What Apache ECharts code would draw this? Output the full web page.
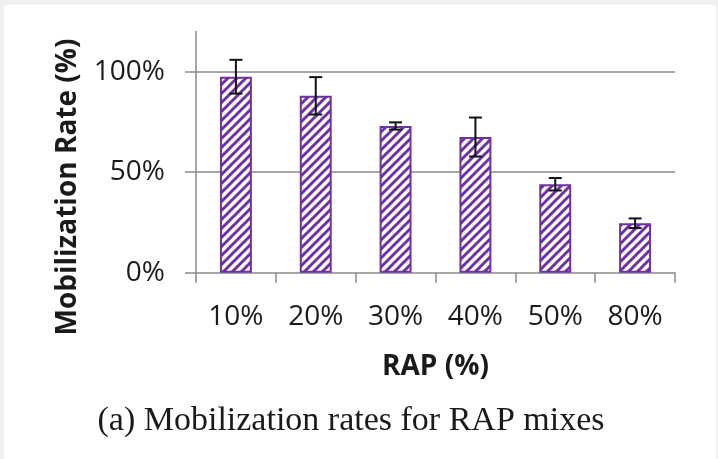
<!DOCTYPE html>
<html>
<head>
<meta charset="utf-8">
<script src="https://cdn.jsdelivr.net/npm/echarts@6/dist/echarts.min.js"></script>
<style>
  html, body { margin: 0; padding: 0; background: #efefef; }
  #frame { position: absolute; left: 4px; top: 5px; width: 712px; height: 454px; background: #ffffff; }
  #chart { position: absolute; left: -4px; top: -5px; width: 718px; height: 459px; }
</style>
</head>
<body>
<div id="frame"><div id="chart"></div></div>
<script>
// RAP content of each mix
const categories = ['10%', '20%', '30%', '40%', '50%', '80%'];
// mean mobilization rate (%)
const rates = [97.5, 88, 73, 67.5, 44, 24.6];
// standard deviation shown as error bars (%)
const errors = [8.4, 9.3, 1.8, 9.7, 3.1, 2.4];
// value axis ticks (%)
const yTicks = [0, 50, 100];

const PURPLE = '#7030a0';
const GRID = '#8a8a8a';
const INK = '#1a1a1a';
const SANS = '"Open Sans", "Liberation Sans", sans-serif';

// diagonal hatch used as bar fill
function hatch() {
  const s = 9;
  const c = document.createElement('canvas');
  c.width = s; c.height = s;
  const g = c.getContext('2d');
  g.fillStyle = '#ffffff';
  g.fillRect(0, 0, s, s);
  g.strokeStyle = PURPLE;
  g.lineWidth = 3;
  g.lineCap = 'square';
  for (const o of [-s, 0, s]) {
    g.beginPath();
    g.moveTo(o, s);
    g.lineTo(o + s, 0);
    g.stroke();
  }
  return c;
}

const chart = echarts.init(document.getElementById('chart'), null, { renderer: 'canvas' });

chart.setOption({
  animation: false,
  backgroundColor: 'transparent',
  grid: { left: 196, right: 43, top: 31.5, bottom: 186.3 },
  xAxis: {
    type: 'category',
    data: categories,
    boundaryGap: true,
    axisLine: { lineStyle: { color: GRID, width: 1.5 } },
    axisTick: { show: true, length: 10, lineStyle: { color: GRID, width: 1.5 } },
    axisLabel: { color: INK, fontFamily: SANS, fontSize: 28, margin: 30 },
    name: 'RAP (%)',
    nameLocation: 'middle',
    nameGap: 80,
    nameTextStyle: { color: INK, fontFamily: SANS, fontWeight: 'bold', fontSize: 28 }
  },
  yAxis: {
    type: 'value',
    min: 0,
    max: 120,
    interval: 50,
    axisLine: { show: true, lineStyle: { color: GRID, width: 1.5 } },
    axisTick: { show: true, length: 11, customValues: yTicks, lineStyle: { color: GRID, width: 1.5 } },
    axisLabel: {
      color: INK, fontFamily: SANS, fontSize: 28, margin: 31,
      customValues: yTicks,
      formatter: v => (yTicks.includes(v) ? v + '%' : '')
    },
    splitLine: { show: false }
  },
  graphic: [
    {
      type: 'text',
      x: 68, y: 187,
      rotation: Math.PI / 2,
      style: {
        text: 'Mobilization Rate (%)',
        fill: INK,
        font: 'bold 28px ' + SANS,
        align: 'center',
        verticalAlign: 'middle'
      }
    },
    {
      type: 'text',
      x: 351, y: 421,
      style: {
        text: '(a) Mobilization rates for RAP mixes',
        fill: INK,
        font: '34px "Liberation Serif", "Times New Roman", serif',
        align: 'center',
        verticalAlign: 'middle'
      }
    }
  ],
  series: [
    {
      type: 'bar',
      data: rates,
      barWidth: '40%',
      itemStyle: {
        color: { image: hatch(), repeat: 'repeat' },
        borderColor: PURPLE,
        borderWidth: 2
      },
      markLine: {
        silent: true,
        symbol: 'none',
        label: { show: false },
        lineStyle: { color: GRID, width: 1.5, type: 'solid' },
        data: yTicks.filter(v => v > 0).map(v => ({ yAxis: v })),
        z: 1
      },
      z: 3
    },
    {
      type: 'custom',
      data: rates.map((v, i) => [i, v - errors[i], v + errors[i]]),
      renderItem: function (params, api) {
        const lo = api.coord([api.value(0), api.value(1)]);
        const hi = api.coord([api.value(0), api.value(2)]);
        const half = 6.5;
        const st = { stroke: '#111', lineWidth: 2 };
        return {
          type: 'group',
          children: [
            { type: 'line', shape: { x1: lo[0], y1: lo[1], x2: hi[0], y2: hi[1] }, style: st },
            { type: 'line', shape: { x1: hi[0] - half, y1: hi[1], x2: hi[0] + half, y2: hi[1] }, style: st },
            { type: 'line', shape: { x1: lo[0] - half, y1: lo[1], x2: lo[0] + half, y2: lo[1] }, style: st }
          ]
        };
      },
      z: 5
    }
  ]
});
</script>
</body>
</html>
